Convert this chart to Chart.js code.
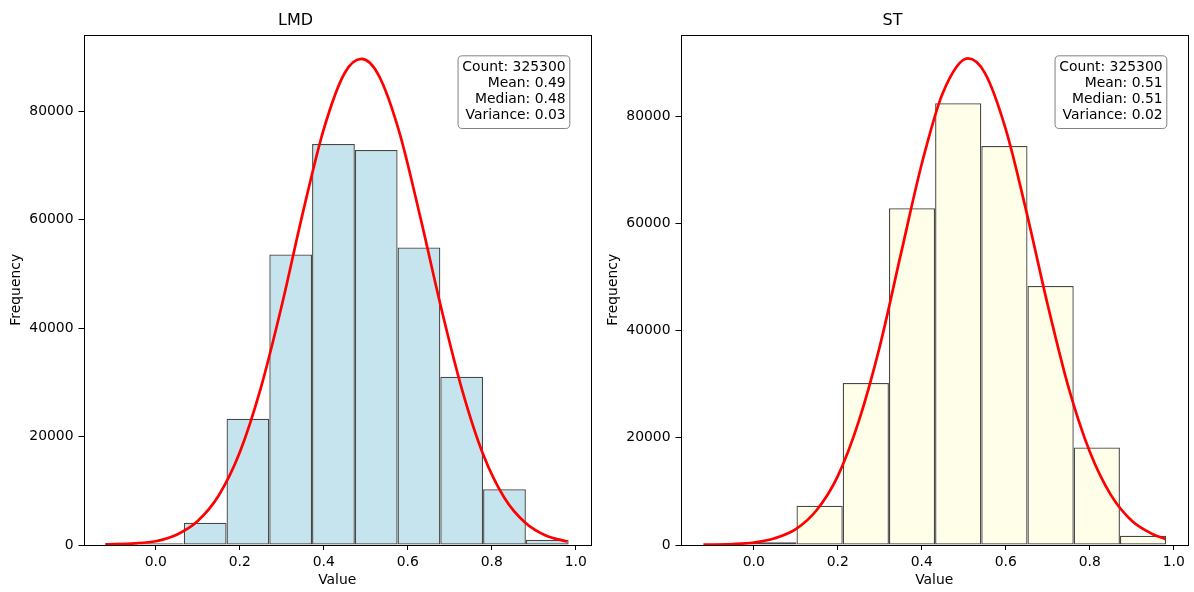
<!DOCTYPE html>
<html>
<head>
<meta charset="utf-8">
<script src="https://cdn.jsdelivr.net/npm/chart.js@4.4.0/dist/chart.umd.min.js"></script>
<style>
  html, body { margin: 0; padding: 0; background: #fff; }
  #wrap { position: relative; width: 1194px; height: 592px; overflow: hidden; }
  canvas { position: absolute; top: 0; }
</style>
</head>
<body>
<div id="wrap">
  <canvas id="c1" width="597" height="592" style="left:0px"></canvas>
  <canvas id="c2" width="597" height="592" style="left:597px"></canvas>
</div>
<script>
// ---------- data ----------
const xTicks = [0.0, 0.2, 0.4, 0.6, 0.8, 1.0];
const yTicks = [0, 20000, 40000, 60000, 80000];

const lmdTitle = 'LMD';
const lmdBinCenters = [0.0160, 0.1178, 0.2196, 0.3214, 0.4232, 0.5250, 0.6268, 0.7286, 0.8304, 0.9322];
const lmdCounts = [300, 4120, 23300, 53600, 74000, 72900, 54900, 31050, 10300, 990];
const lmdCurveX = [-0.12, -0.05, 0, 0.05, 0.10, 0.15, 0.20, 0.25, 0.30, 0.35, 0.40, 0.45, 0.49, 0.53, 0.58, 0.63, 0.68, 0.73, 0.78, 0.83, 0.88, 0.93, 0.98];
const lmdCurveY = [100, 300, 700, 1900, 4420, 9130, 17060, 28900, 44150, 61200, 76700, 87100, 89700, 86800, 76200, 60500, 43650, 28500, 16650, 8730, 4110, 1710, 650];
const lmdStats = ['Count: 325300', 'Mean: 0.49', 'Median: 0.48', 'Variance: 0.03'];
const lmdXRange = [-0.1719, 1.0364];
const lmdYMax = 94200;

const stTitle = 'ST';
const stBinCenters = [0.0467, 0.1567, 0.2667, 0.3767, 0.4867, 0.5967, 0.7067, 0.8167, 0.9267];
const stCounts = [520, 7330, 30200, 62800, 82400, 74400, 48300, 18170, 1740];
const stCurveX = [-0.12, -0.05, 0, 0.05, 0.10, 0.15, 0.20, 0.25, 0.30, 0.35, 0.40, 0.45, 0.51, 0.55, 0.60, 0.65, 0.70, 0.75, 0.80, 0.85, 0.90, 0.95, 0.98];
const stCurveY = [60, 170, 450, 1255, 2960, 6530, 12850, 23090, 37050, 54200, 71100, 84300, 90750, 88050, 77500, 61850, 44700, 29200, 17370, 9340, 4520, 2010, 1100];
const stStats = ['Count: 325300', 'Mean: 0.51', 'Median: 0.51', 'Variance: 0.02'];
const stXRange = [-0.1745, 1.0338];
const stYMax = 95200;

// ---------- styling ----------
Chart.defaults.font.family = '"DejaVu Sans", sans-serif';
Chart.defaults.color = '#000';

const framePlugin = {
  id: 'frame',
  afterDraw(chart, args, opts) {
    const {ctx, chartArea: a} = chart;
    ctx.save();
    ctx.strokeStyle = '#000';
    ctx.lineWidth = 1;
    ctx.strokeRect(Math.round(a.left) + 0.5, Math.round(a.top) + 0.5,
                   Math.round(a.right) - Math.round(a.left), Math.round(a.bottom) - Math.round(a.top));
    // stats box
    const lines = opts.lines || [];
    const fs = 13.9;
    ctx.font = fs + 'px "DejaVu Sans", sans-serif';
    const xr = a.left + 0.95 * (a.right - a.left);
    const yt = a.top + 0.05 * (a.bottom - a.top);
    const lh = 16;
    let w = 0;
    lines.forEach(l => { w = Math.max(w, ctx.measureText(l).width); });
    const pad = 4.2;
    const bx = xr - w - pad, by = yt - pad;
    const bw = w + 2 * pad, bh = (lines.length - 1) * lh + fs * 1.17 + 2 * pad;
    const r = 4.2;
    ctx.beginPath();
    ctx.moveTo(bx + r, by);
    ctx.lineTo(bx + bw - r, by);
    ctx.quadraticCurveTo(bx + bw, by, bx + bw, by + r);
    ctx.lineTo(bx + bw, by + bh - r);
    ctx.quadraticCurveTo(bx + bw, by + bh, bx + bw - r, by + bh);
    ctx.lineTo(bx + r, by + bh);
    ctx.quadraticCurveTo(bx, by + bh, bx, by + bh - r);
    ctx.lineTo(bx, by + r);
    ctx.quadraticCurveTo(bx, by, bx + r, by);
    ctx.closePath();
    ctx.fillStyle = 'rgba(255,255,255,0.8)';
    ctx.fill();
    ctx.strokeStyle = '#808080';
    ctx.lineWidth = 1;
    ctx.stroke();
    ctx.fillStyle = '#000';
    ctx.textAlign = 'right';
    ctx.textBaseline = 'alphabetic';
    lines.forEach((l, i) => {
      ctx.fillText(l, xr, yt + 11 + i * lh);
    });
    ctx.restore();
  }
};

function makeChart(id, title, centers, counts, curveX, curveY, stats, xRange, yMax, fill) {
  const bars = centers.map((c, i) => ({x: c, y: counts[i]}));
  const curve = curveX.map((x, i) => ({x: x, y: curveY[i]}));
  return new Chart(document.getElementById(id), {
    type: 'bar',
    data: {
      datasets: [
        {
          type: 'line',
          data: curve,
          borderColor: '#ff0000',
          borderWidth: 2.7,
          pointRadius: 0,
          cubicInterpolationMode: 'monotone',
          fill: false,
          order: 0
        },
        {
          type: 'bar',
          data: bars,
          backgroundColor: fill,
          borderColor: 'rgba(0,0,0,0.72)',
          borderWidth: 1.3,
          borderSkipped: false,
          inflateAmount: 0,
          barPercentage: 1,
          categoryPercentage: 1,
          grouped: false,
          order: 1
        }
      ]
    },
    options: {
      responsive: false,
      animation: false,
      events: [],
      layout: { padding: { left: 0, right: 6, top: 0, bottom: 0 } },
      plugins: {
        legend: { display: false },
        tooltip: { enabled: false },
        title: {
          display: true,
          text: title,
          font: { size: 16, weight: 'normal' },
          color: '#000',
          padding: { top: 11, bottom: 4.3 }
        },
        frame: { lines: stats }
      },
      scales: {
        x: {
          type: 'linear',
          min: xRange[0],
          max: xRange[1],
          offset: false,
          afterBuildTicks(s) { s.ticks = xTicks.map(v => ({value: v})); },
          afterFit(s) { s.height = 47; },
          ticks: {
            font: { size: 13.9 },
            color: '#000',
            padding: 4,
            maxRotation: 0,
            autoSkip: false,
            callback: v => Number(v).toFixed(1)
          },
          grid: { offset: false, drawOnChartArea: false, drawTicks: true, tickLength: 5, color: '#000', lineWidth: 1 },
          border: { display: false },
          title: { display: true, text: 'Value', font: { size: 13.9 }, color: '#000', padding: { top: 0, bottom: 3.5 } }
        },
        y: {
          type: 'linear',
          min: 0,
          max: yMax,
          afterBuildTicks(s) { s.ticks = yTicks.map(v => ({value: v})); },
          afterFit(s) { s.width = 83.5; },
          ticks: {
            font: { size: 13.9 },
            color: '#000',
            padding: 5,
            autoSkip: false,
            callback: v => String(v)
          },
          grid: { drawOnChartArea: false, drawTicks: true, tickLength: 5, color: '#000', lineWidth: 1 },
          border: { display: false },
          title: { display: true, text: 'Frequency', font: { size: 13.9 }, color: '#000', padding: { top: 8, bottom: 0 } }
        }
      }
    },
    plugins: [framePlugin]
  });
}

makeChart('c1', lmdTitle, lmdBinCenters, lmdCounts, lmdCurveX, lmdCurveY, lmdStats, lmdXRange, lmdYMax, 'rgba(173,216,230,0.7)');
makeChart('c2', stTitle, stBinCenters, stCounts, stCurveX, stCurveY, stStats, stXRange, stYMax, 'rgba(255,255,224,0.7)');
</script>
</body>
</html>
